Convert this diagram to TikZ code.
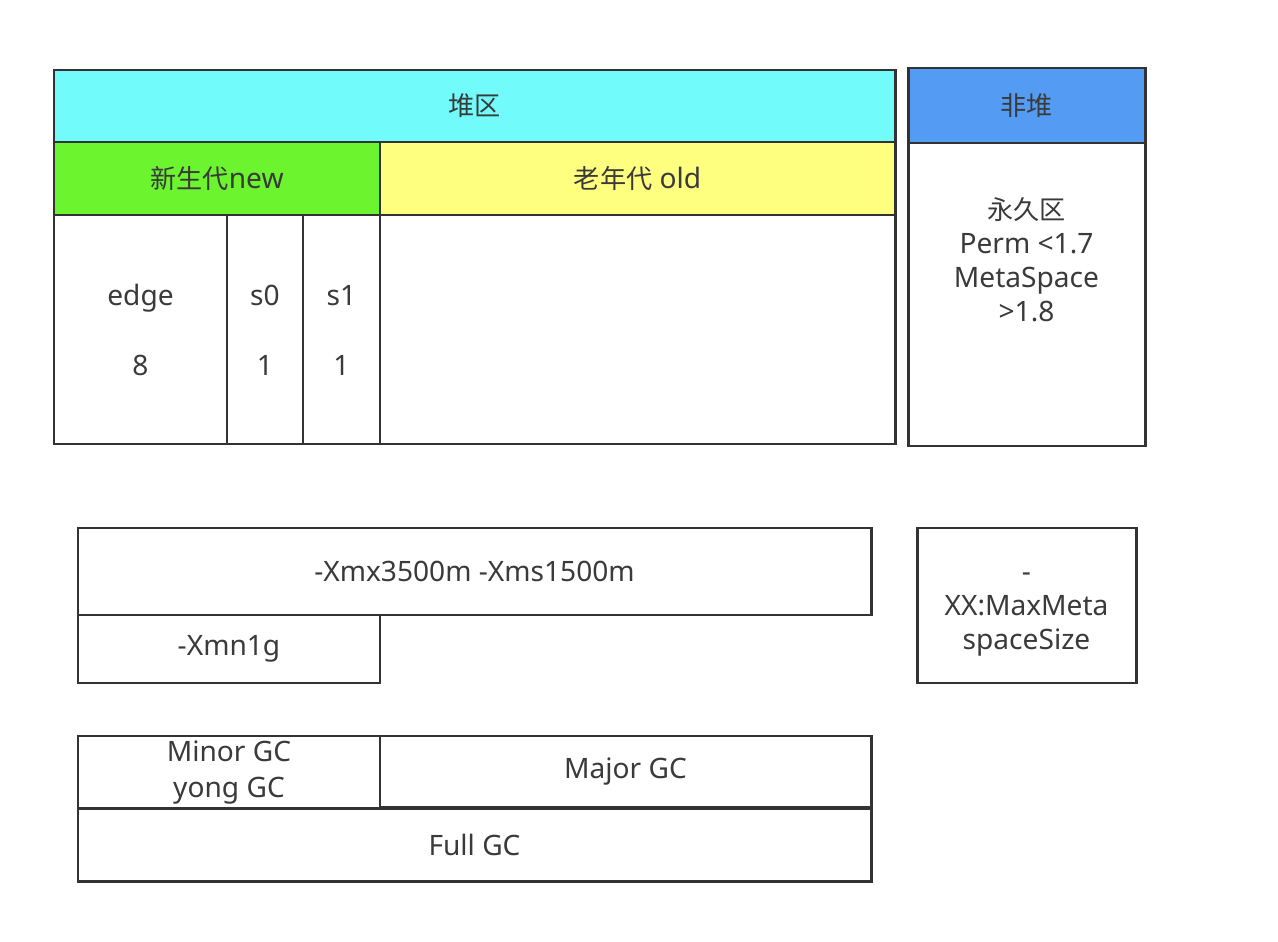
\documentclass[tikz,border=0pt]{standalone}
\usepackage{fontspec}
\setmainfont{Noto Sans}
\newfontfamily\cjk[Scale=0.93]{Noto Sans CJK SC}
\usepackage{xcolor}
\usepackage{tikz}
\usetikzlibrary{positioning,calc}

\definecolor{linec}{HTML}{333333}
\definecolor{textc}{HTML}{3A3A3A}
\definecolor{heapc}{HTML}{72FBFB}
\definecolor{newc}{HTML}{6CF42E}
\definecolor{oldc}{HTML}{FFFF7F}
\definecolor{nonheapc}{HTML}{549CF3}

\begin{document}
\begin{tikzpicture}[
    x=0.02cm, y=-0.02cm,
    region/.style 2 args={draw=linec, line width=1.7pt, rectangle, anchor=north west, inner sep=0pt, outer sep=0pt,
        minimum width=#1*0.02cm, minimum height=#2*0.02cm, align=center,
        font=\fontsize{16}{19.5}\selectfont, text=textc},
    lbl/.style={font=\fontsize{16}{19.5}\selectfont, text=textc, align=center}
]
    \useasboundingbox (0,0) rectangle (1278,942);

    % heap
    \node [region={841}{72}, fill=heapc] (heap) at (54,70) {{\cjk 堆区}};
    \node [region={326}{73}, fill=newc] (new) at (heap.south west) {{\cjk 新生代}new};
    \node [region={515}{73}, fill=oldc] (old) at (new.north east) {{\cjk 老年代} old};
    \node [region={173}{229}] (edge) at (new.south west) {};
    \node [region={76}{229}] (s0) at (edge.north east) {};
    \node [region={77}{229}] (s1) at (s0.north east) {};
    \node [region={515}{229}] (oldbody) at (s1.north east) {};
    \foreach \n/\a/\b in {edge/edge/8, s0/s0/1, s1/s1/1} {
        \node [lbl, anchor=base] at ($(\n.north)+(0,91)$) {\a};
        \node [lbl, anchor=base] at ($(\n.north)+(0,161)$) {\b};
    }

    % non-heap
    \node [region={237}{75}, fill=nonheapc] (nonheap) at (908,68) {{\cjk 非堆}};
    \node [region={237}{303}] (perm) at (nonheap.south west) {};
    \node [lbl, anchor=north] at ($(perm.north)+(0,48)$)
        {{\cjk 永久区}\\Perm {<}1.7\\MetaSpace\\{>}1.8};

    % parameters
    \node [region={793}{87}] (xmx) at (78,528) {-Xmx3500m -Xms1500m};
    \node [region={302}{68}] (xmn) at (xmx.south west) {-Xmn1g};
    \node [region={219}{155}] (meta) at (917,528) {};
    \node [lbl] at ($(meta.center)+(0,9)$) {-\\XX:MaxMeta\\spaceSize};

    % gc
    \node [region={302}{71}, font=\fontsize{16}{20.5}\selectfont] (minor) at (78,736) {\raisebox{-2pt}{\begin{tabular}{@{}c@{}}Minor GC\\yong GC\end{tabular}}};
    \node [region={491}{71}] (major) at (minor.north east) {Major GC};
    \node [region={793}{73}] (full) at (minor.south west) {Full GC};
\end{tikzpicture}
\end{document}
